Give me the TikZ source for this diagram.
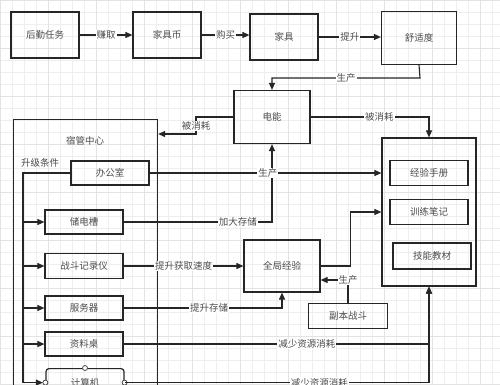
\documentclass[tikz,border=0pt]{standalone}
\usepackage{fontspec}
\setmainfont{Noto Sans CJK SC}
\usetikzlibrary{arrows.meta}
\tikzset{
  box/.style={draw=black!85, line width=1.2pt, text=black!70, inner sep=0pt},
  lbl/.style={fill=white, text=black!70, inner sep=1pt},
  link/.style={draw=black!85, line width=1.1pt},
  arr/.style={link, -{Triangle[length=7pt,width=6pt]}}
}
\begin{document}
\begin{tikzpicture}[x=1pt,y=-1pt,font=\fontsize{9.5}{11}\selectfont]
\useasboundingbox (0,0) rectangle (500,384);
\clip (0,0) rectangle (500,384);
\fill[white] (0,0) rectangle (500,384);
\draw[gray!13, step=12pt] (0,0) grid (500,384);
\draw[gray!22, step=48pt] (0,0) grid (500,384);
% top row
\node[box, minimum width=68pt, minimum height=46pt] (duty) at (45,35) {后勤任务};
\node[box, minimum width=68pt, minimum height=46pt] (coin) at (167,35) {家具币};
\node[box, minimum width=68pt, minimum height=46pt] (furn) at (284,37) {家具};
\node[box, minimum width=75pt, minimum height=53pt] (comfort) at (419,38) {舒适度};
\node[box, minimum width=76pt, minimum height=53pt] (power) at (272,117) {电能};
% dorm center
\node[box, minimum width=144pt, minimum height=300pt, anchor=north west] (dorm) at (13,119) {};
\node[text=black!70] (dormtitle) at (85,141) {宿管中心};
\node[box, minimum width=78pt, minimum height=24pt] (office) at (110,173) {办公室};
\node[box, minimum width=78pt, minimum height=24pt] (battery) at (84,222) {储电槽};
\node[box, minimum width=78pt, minimum height=25pt] (recorder) at (84,266) {战斗记录仪};
\node[box, minimum width=78pt, minimum height=24pt] (server) at (84,308) {服务器};
\node[box, minimum width=78pt, minimum height=24pt] (desk) at (84,344) {资料桌};
\node[box, rounded corners=3pt, minimum width=78pt, minimum height=28pt, anchor=north] (computer) at (85,368) {计算机};
\foreach \p in {north,west,east}
  \draw[fill=white, draw=black!70, line width=0.8pt] (computer.\p) circle[radius=2.5pt];
% experience
\node[box, minimum width=94pt, minimum height=148pt] (exp) at (429,212) {};
\node[box, minimum width=78pt, minimum height=25pt] (manual) at (429,173) {经验手册};
\node[box, minimum width=78pt, minimum height=25pt] (notes) at (429,212) {训练笔记};
\node[box, minimum width=78pt, minimum height=26pt] (textbook) at (432,256) {技能教材};
\node[box, minimum width=76pt, minimum height=52pt] (global) at (282,266) {全局经验};
\node[box, minimum width=79pt, minimum height=25pt] (dungeon) at (348,316) {副本战斗};
% links
\draw[arr] (duty) -- node[lbl]{赚取} (coin);
\draw[arr] (coin.east) -- node[lbl]{购买} (coin.east -| furn.west);
\draw[arr] (furn) -- node[lbl]{提升} (furn -| comfort.west);
\coordinate (prod) at (420,78);
\draw[arr] (comfort.south) -- (prod) -- node[lbl]{生产} (prod -| power.north) -- (power.north);
\draw[arr] (power.east) -| node[lbl, pos=0.29]{被消耗} (exp.north);
\coordinate (used) at (196,134);
\draw[arr] (power.west) -| (used) -- (used -| dorm.east);
\node[lbl] (usedlbl) at (196,126) {被消耗};
% upgrade branches
\coordinate (trunk) at (23,173);
\draw[link, line width=1.6pt] (office.west) -- (trunk) -- (trunk |- computer.west);
\node[text=black!70] (upgrade) at (40,163) {升级条件};
\foreach \n in {battery,recorder,server,desk}
  \draw[arr] (\n.west -| trunk) -- (\n.west);
\draw[arr, shorten >=2.5pt] (computer.west -| trunk) -- (computer.west);
% effects
\draw[arr] (battery.east) -| node[lbl, pos=0.385]{加大存储} (power.south);
\draw[arr] (office.east) -- node[lbl, pos=0.51]{生产} (office.east -| exp.west);
\draw[arr] (recorder.east) -- node[lbl]{提升获取速度} (recorder.east -| global.west);
\draw[arr] (server.east) -| node[lbl, pos=0.27]{提升存储} (global.south);
\draw[arr] (global.east) -- ++(30,0) |- (exp.west |- notes);
\draw[arr] (dungeon.north) |- node[lbl, pos=0.5]{生产} (global.east |- 0,280);
\draw[arr] (computer.east) -| node[lbl, pos=0.32]{减少资源消耗} (exp.south);
\draw[arr] (desk.east) -| node[lbl, pos=0.3]{减少资源消耗} (exp.south);
\end{tikzpicture}
\end{document}
